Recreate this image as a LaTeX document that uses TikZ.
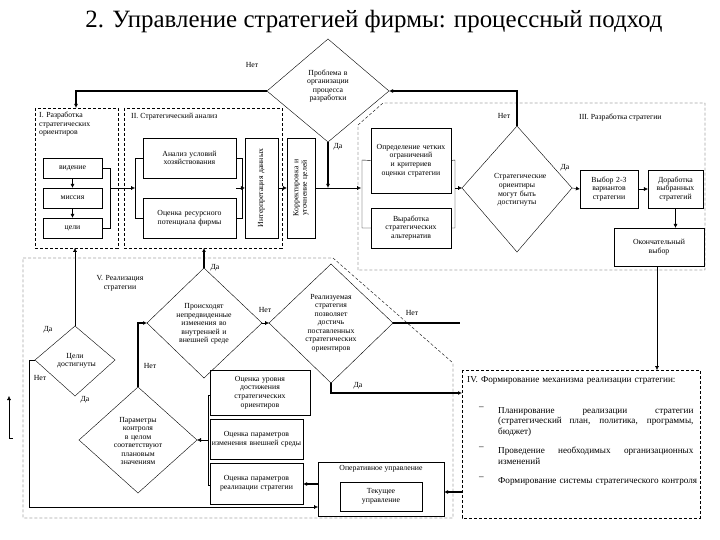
\documentclass[tikz,border=0pt]{standalone}
\usepackage{fontspec}
\setmainfont{Liberation Serif}
\usetikzlibrary{shapes.geometric,arrows.meta}
\begin{document}
\begin{tikzpicture}[x=1bp,y=-1bp,
  t/.style={font=\fontsize{7.8}{8.6}\selectfont,align=center,inner sep=1pt},
  tb/.style={font=\fontsize{9.2}{10.6}\selectfont,inner sep=1pt},
  bx/.style={draw,t},
  dsh/.style={draw,dash pattern=on 3bp off 2bp},
  ar/.style={-{Latex[length=4bp,width=4bp]}},
  th/.style={line width=1.3pt}]
\useasboundingbox (0,0) rectangle (720,540);
\node[font=\fontsize{25}{28}\selectfont] (title) at (374,22) {2. Управление стратегией фирмы: процессный подход};

% Diamond problem
\draw (267,91) coordinate (pl) -- (328,39) -- (389,91) coordinate (pr) -- (328,142) coordinate (pb) -- cycle;
\node[t,text width=62] (prob) at (328,86) {Проблема в организации процесса разработки};
\node[t] (n1) at (252,65) {Нет};
\node[t] (d1) at (338,147) {Да};

% Box I
\draw[dsh] (35,108) rectangle (118,248);
\node[t,align=left,anchor=north west,text width=75] (tI) at (38,111) {I. Разработка стратегических ориентиров};
\node[bx,minimum width=59,minimum height=20] (vid) at (72.5,168) {видение};
\node[bx,minimum width=59,minimum height=20] (mis) at (72.5,198) {миссия};
\node[bx,minimum width=59,minimum height=20] (cel) at (72.5,228) {цели};
\draw[ar] (vid) -- (mis);
\draw[ar] (mis) -- (cel);
\draw (vid.east) -- (110,168) -- (110,228) -- (cel.east);
\draw[ar] (110,188) -- (135,188);

% Box II
\draw[dsh] (124,108) rectangle (282,248);
\node[t,anchor=west] (tII) at (130,117) {II. Стратегический анализ};
\node[bx,minimum width=93,minimum height=40,text width=80] (anal) at (189.5,158) {Анализ условий хозяйствования};
\node[bx,minimum width=93,minimum height=40,text width=90] (ocr) at (189.5,218) {Оценка ресурсного потенциала фирмы};
\draw (anal.west) -- (135,158) -- (135,218) -- (ocr.west);
\draw (anal.east) -- (242,158) -- (242,218) -- (ocr.east);
\node[bx,minimum width=33,minimum height=100] (int) at (261.5,188) {};
\node[t,rotate=90,text width=80] (intt) at (261.5,188) {Интерпретация данных};
\draw[ar] (236,188) -- (int.west);
\node[bx,minimum width=28,minimum height=100] (kor) at (301,188) {};
\node[t,rotate=90,text width=90] (kort) at (301,188) {Корректировка и уточнение целей};
\draw[ar] (int.east) -- (kor.west);
\draw[ar] (kor.east) -- (361,188);
\draw[ar,th] (pb) -- (328,188);
\draw[ar,th] (pl) -- (76,91) -- (76,108);

% Box III
\draw[dsh] (358,270) -- (358,125) -- (383,103) -- (705,103) -- (705,270) -- cycle;
\node[t,anchor=west] (tIII) at (578,118) {III. Разработка стратегии};
\node[bx,minimum width=80,minimum height=65,text width=76] (opr) at (411,160.5) {Определение четких ограничений и критериев оценки стратегии};
\node[bx,minimum width=80,minimum height=40,text width=76] (vyr) at (411,228) {Выработка стратегических альтернатив};
\draw (opr.west) -- (362,160) -- (362,228) -- (vyr.west);
\draw (opr.east) -- (455,160) -- (455,228) -- (vyr.east);
\draw (462,188) coordinate (sl) -- (517,126) coordinate (st) -- (572,188) coordinate (sr) -- (517,252) -- cycle;
\node[t,text width=46] (str) at (517,190) {Стратегические ориентиры могут быть достигнуты};
\draw[ar] (455,188) -- (sl);
\node[t] (n2) at (504,116) {Нет};
\draw[ar,th] (st) -- (517,91) -- (pr);
\node[t] (d2) at (565,168) {Да};
\node[bx,minimum width=58,minimum height=38,text width=54] (vyb) at (609,189) {Выбор 2-3 вариантов стратегии};
\node[bx,minimum width=55,minimum height=38,text width=52] (dor) at (675.5,189) {Доработка выбранных стратегий};
\draw[ar] (sr) -- (vyb.west);
\draw[ar] (vyb.east) -- (dor.west);
\node[bx,minimum width=90,minimum height=38,text width=70] (okn) at (659,247) {Окончательный выбор};
\draw[ar] (dor.south) -- (okn.north -| dor.south);
\draw[ar] (657,266) -- (657,370);

% Box IV
\draw[dsh] (462,370) rectangle (700,518);
\node[tb,anchor=north west,align=left,text width=225] (tIV) at (466,375) {IV. Формирование механизма реализации стратегии:};
\node[tb,anchor=north west] (da) at (478,406) {\textendash};
\node[tb,anchor=north west,align=justify,text width=196] (i1) at (497,406) {Планирование реализации стратегии (стратегический план, политика, программы, бюджет)};
\node[tb,anchor=north west] (db) at (478,446) {\textendash};
\node[tb,anchor=north west,align=justify,text width=196] (i2) at (497,446) {Проведение необходимых организационных изменений};
\node[tb,anchor=north west] (dc) at (478,476) {\textendash};
\node[tb,anchor=north west,align=left,text width=200] (i3) at (497,476) {Формирование системы стратегического контроля};

% Box V
\draw[dsh] (23,258) -- (333,258) -- (453,363) -- (453,518) -- (23,518) -- cycle;
\node[t,text width=70] (tV) at (120,283) {V. Реализация стратегии};

\draw (35,360) coordinate (cl) -- (75,326) coordinate (ct) -- (115,360) -- (75,396) -- cycle;
\node[t,text width=36] (cd) at (75,361) {Цели достигнуты};
\node[t] (d3) at (48,330) {Да};
\node[t] (n3) at (40,378) {Нет};
\node[t] (d4) at (85,400) {Да};
\draw[ar] (ct) -- (75,248);

\draw (147,323) coordinate (pl2) -- (204,268) coordinate (pt2) -- (262,323) coordinate (pr2) -- (204,378) -- cycle;
\node[t,text width=56] (proi) at (204,324) {Происходят непредвиденные изменения во внутренней и внешней среде};
\node[t] (d5) at (215,268) {Да};
\draw[ar,th] (pt2) -- (204,248);
\node[t] (n4) at (265,310) {Нет};

\draw (269,323) coordinate (rl) -- (331,264) -- (393,323) coordinate (rr) -- (331,383) coordinate (rb) -- cycle;
\node[t,text width=58] (real) at (331,323) {Реализуемая стратегия позволяет достичь поставленных стратегических ориентиров};
\draw[ar] (pr2) -- (rl);
\node[t] (n5) at (412,313) {Нет};
\draw[th] (rr) -- (460,323);
\node[t] (d6) at (358,386) {Да};
\draw[ar,th] (rb) -- (331,393) -- (462,393);

\draw (79,440) coordinate (kl) -- (138,387) coordinate (kt) -- (197,440) coordinate (kr) -- (138,493) -- cycle;
\node[t,text width=56] (par) at (138,441) {Параметры контроля в целом соответствуют плановым значениям};
\node[t] (n6) at (150,366) {Нет};
\draw[ar,th] (kt) -- (138,323) -- (pl2);

\node[bx,minimum width=100,minimum height=45,text width=70] (ou) at (260,392.5) {Оценка уровня достижения стратегических ориентиров};
\node[bx,minimum width=93,minimum height=40,text width=90] (opv) at (256.5,439) {Оценка параметров изменения внешней среды};
\node[bx,minimum width=93,minimum height=41,text width=80] (opr2) at (256.5,483.5) {Оценка параметров реализации стратегии};
\draw (208,395) -- (208,485);
\draw (208,395) -- (ou.west |- 208,395);
\draw (208,485) -- (opr2.west |- 208,485);
\draw[ar] (208,440) -- (kr);

\node[draw,minimum width=126,minimum height=54] (oper) at (381,489) {};
\node[t,anchor=north] (opert) at (381,464) {Оперативное управление};
\node[bx,minimum width=82,minimum height=29] (tek) at (381,496.5) {Текущее\\управление};
\draw[ar,th] (318,484) -- (opr2.east |- 318,484);
\draw[ar] (cl) -- (29,360) -- (29,507) -- (318,507);
\draw[ar,th] (462,492) -- (444,492);

\draw[ar] (9,438) -- (9,396);
\draw (9,438) -- (13,438);
\end{tikzpicture}
\end{document}
